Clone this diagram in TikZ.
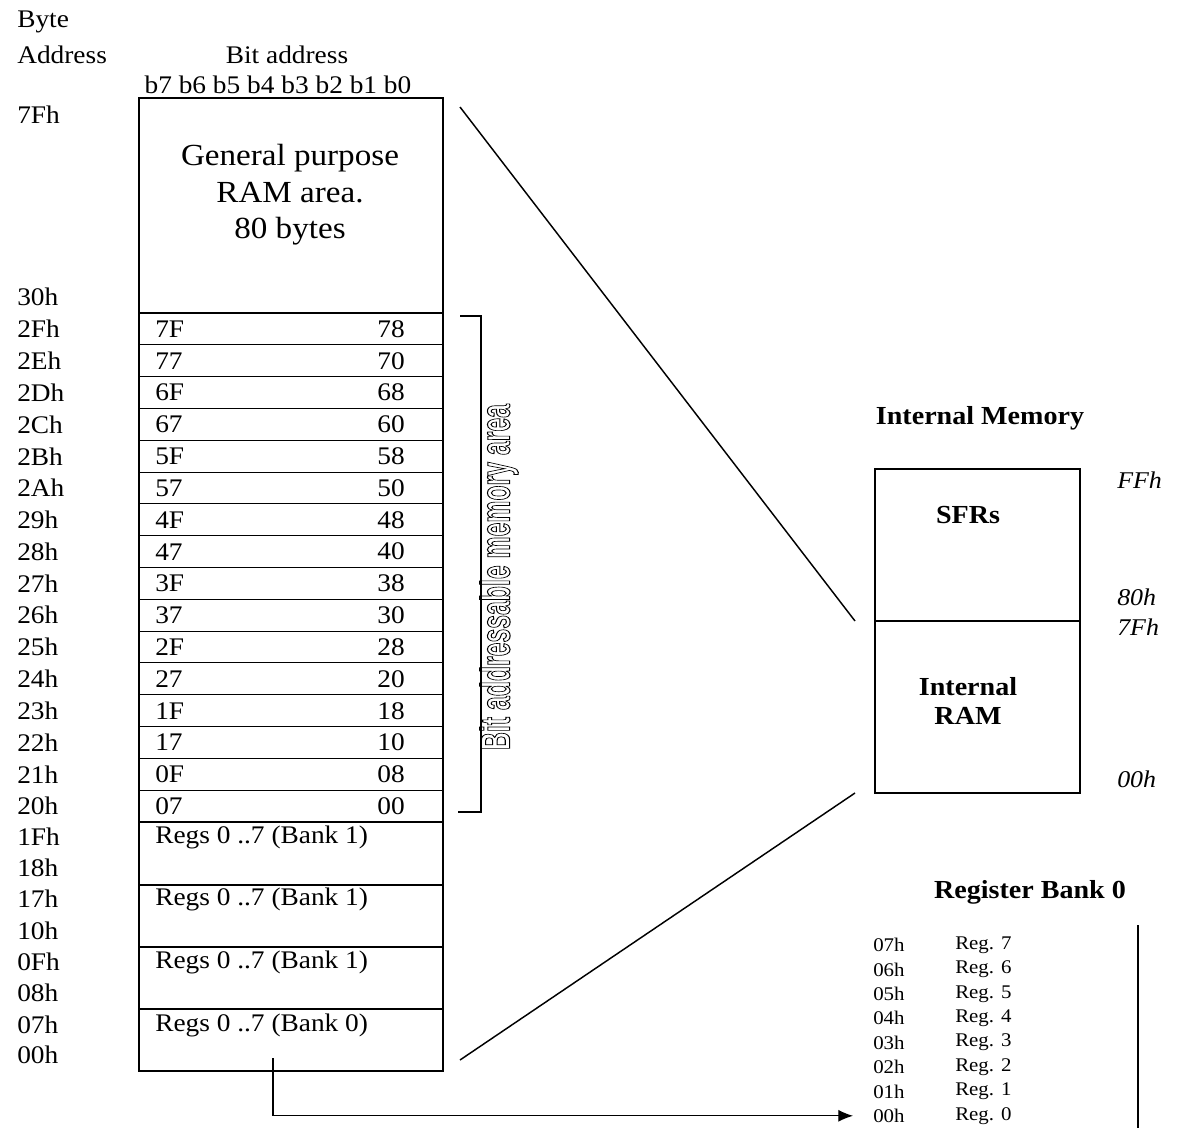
\documentclass[tikz,border=0pt]{standalone}
\usepackage{fontspec}
\setmainfont{Liberation Serif}[FakeStretch=1.08]
\newfontfamily\bitfont{Liberation Sans}
\usetikzlibrary{arrows.meta}
\begin{document}
\begin{tikzpicture}[x=0.75pt,y=-0.75pt,
  font=\fontsize{19}{22}\selectfont,
  lab/.style={anchor=west,inner sep=0pt},
  cell/.style={anchor=west,inner sep=0pt},
  cellr/.style={anchor=east,inner sep=0pt},
  regf/.style={anchor=west,inner sep=0pt,font=\fontsize{14.5}{16}\selectfont},
  head/.style={font=\fontsize{19.5}{22}\selectfont\bfseries,inner sep=0pt},
  ital/.style={anchor=west,inner sep=0pt,font=\fontsize{18}{20}\selectfont\itshape},
  thin/.style={line width=0.8pt},
  thick/.style={line width=1.1pt}]
\useasboundingbox (0,0) rectangle (1179,1128);

% headers
\node[lab] (hbyte) at (17,22) {Byte};
\node[lab] (haddr) at (17,55) {Address};
\node[inner sep=0pt] (hbit) at (287,55) {Bit address};
\node[inner sep=0pt] (hbits) at (278,85) {b7 b6 b5 b4 b3 b2 b1 b0};

% main box
\draw[thick] (139,98) rectangle (443,1071);
\draw[thin] (139,313) -- (443,313);
\foreach \i in {1,...,16} {
  \draw[thin] (139,{313+31.8125*\i}) -- (443,{313+31.8125*\i});
}
\foreach \y in {885,947,1009} { \draw[thin] (139,\y) -- (443,\y); }

\node[align=center,inner sep=0pt,font=\fontsize{23}{27.5}\selectfont] (gp) at (290,195) {General purpose\\RAM area.\\80 bytes};

\node[lab] (a7f) at (17,115) {7Fh};
\node[lab] (a30) at (17,297) {30h};

\foreach \a/\l/\r [count=\i from 0] in {2Fh/7F/78,2Eh/77/70,2Dh/6F/68,2Ch/67/60,2Bh/5F/58,2Ah/57/50,29h/4F/48,28h/47/40,27h/3F/38,26h/37/30,25h/2F/28,24h/27/20,23h/1F/18,22h/17/10,21h/0F/08,20h/07/00} {
  \node[lab] (ba\i) at (17,{329+31.8125*\i}) {\a};
  \node[cell] (bl\i) at (155,{329+31.8125*\i}) {\l};
  \node[cellr] (br\i) at (405,{329+31.8125*\i}) {\r};
}

\foreach \a/\y in {1Fh/837,18h/868,17h/899,10h/931,0Fh/962,08h/993,07h/1025,00h/1055} {
  \node[lab] (lab\a) at (17,\y) {\a};
}
\node[cell] (bank3) at (155,837) {Regs 0 ..7 (Bank 1)};
\node[cell] (bank2) at (155,899) {Regs 0 ..7 (Bank 1)};
\node[cell] (bank1) at (155,962) {Regs 0 ..7 (Bank 1)};
\node[cell] (bank0) at (155,1025) {Regs 0 ..7 (Bank 0)};

% bracket
\draw[line width=1.6pt] (460,316) -- (481,316) -- (481,812) -- (458,812);
\node[rotate=90,inner sep=0pt] (bitarea) at (499,577) {\bitfont\bfseries\fontsize{31}{31}\selectfont\scalebox{0.6}[1]{\special{pdf:literal direct 1 Tr 0.8 w}Bit addressable memory area\special{pdf:literal direct 0 Tr}}};

% internal memory
\node[head] (imem) at (980,418) {Internal Memory};
\draw[thick] (875,469) rectangle (1080,793);
\draw[thick] (875,621) -- (1080,621);
\coordinate (sfrmid) at (855,621);
\coordinate (rambot) at (855,793);
\node[head] (sfr) at (968,515) {SFRs};
\node[head,align=center] (iram) at (968,701) {Internal\\RAM};
\node[ital] (ff) at (1117,480) {FFh};
\node[ital] (h80) at (1117,597) {80h};
\node[ital] (h7f) at (1117,627) {7Fh};
\node[ital] (h00) at (1117,779) {00h};

\coordinate (gptop) at (460,107);
\coordinate (bank0r) at (460,1060);
\draw[thick] (gptop) -- (sfrmid);
\draw[thick] (bank0r) -- (rambot);

% register bank 0
\node[head] (rbank) at (1030,892) {Register Bank 0};
\foreach \k [count=\j from 0] in {7,6,5,4,3,2,1,0} {
  \node[regf] (ra\k) at (873,{945+24.4*\j}) {0\k h};
  \node[regf] (rr\k) at (955,{945+24.4*\j}) {Reg. \k};
}
\draw[line width=1.2pt] (1138,925) -- (1138,1128);

% arrow
\coordinate (bank0src) at (273,1058);
\draw[thin,-{Latex[length=11pt,width=9pt]}] (bank0src) |- ([xshift=-15pt]ra0.west);
\end{tikzpicture}
\end{document}
